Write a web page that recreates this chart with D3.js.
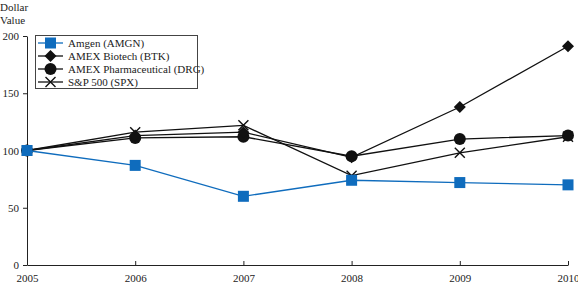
<!DOCTYPE html>
<html>
<head>
<meta charset="utf-8">
<script src="https://cdn.jsdelivr.net/npm/d3@7"></script>
<style>
  body { margin: 0; background: #fff; }
  text { font-family: "Liberation Serif", "Times New Roman", serif; font-size: 11px; fill: #222; }
</style>
</head>
<body>
<div id="graphic"></div>
<script>
// values
const years = [2005, 2006, 2007, 2008, 2009, 2010];
const yTicks = [0, 50, 100, 150, 200];
const amgn = [100, 87, 60, 74, 72, 70];
const btk = [100, 113, 116, 94, 138, 191];
const drg = [100, 111, 112, 95, 110, 113];
const spx = [100, 116, 122, 78, 98, 112];
const seriesNames = ['Amgen (AMGN)', 'AMEX Biotech (BTK)', 'AMEX Pharmaceutical (DRG)', 'S&P 500 (SPX)'];

(function () {
  var width = 578;
  var height = 284;
  var blue = '#0f6cbd';

  var svg = d3.select('#graphic')
    .append('svg')
    .attr('width', width)
    .attr('height', height)

  var x = d3.scaleLinear().domain([2005, 2010]).range([27, 568])
  var y = d3.scaleLinear().domain([0, 200]).range([265, 36])

  // axes
  svg.append('g')
    .attr('transform', 'translate(0,' + y(0) + ')')
    .call(d3.axisBottom(x).tickValues(years).tickFormat(d3.format('d')).tickSize(4).tickSizeOuter(0))
    .call(g => g.selectAll('.tick line').attr('y1', -4).attr('y2', 0))
    .call(g => g.selectAll('.tick text').attr('dy', '0.9em'))

  svg.append('g')
    .attr('transform', 'translate(' + x(2005) + ',0)')
    .call(d3.axisLeft(y).tickValues(yTicks).tickSize(4).tickSizeOuter(0))
    .call(g => g.selectAll('.tick text').attr('x', -8))

  svg.selectAll('.domain, .tick line').attr('stroke', '#222')
  svg.selectAll('.tick text').style('font-family', '"Liberation Serif", serif').style('font-size', '11px').attr('fill', '#222')

  svg.append('text').attr('x', 0).attr('y', 11).text('Dollar')
  svg.append('text').attr('x', 0).attr('y', 24).text('Value')

  var series = [
    { name: seriesNames[0], values: amgn, color: blue, marker: 'square' },
    { name: seriesNames[1], values: btk, color: '#111', marker: 'diamond' },
    { name: seriesNames[2], values: drg, color: '#111', marker: 'circle' },
    { name: seriesNames[3], values: spx, color: '#111', marker: 'cross' }
  ]

  var line = d3.line()
    .x((d, i) => x(years[i]))
    .y(d => y(d))

  function drawMarker (g, type, color) {
    if (type == 'square') {
      g.append('rect').attr('x', -5.5).attr('y', -5.5).attr('width', 11).attr('height', 11).attr('fill', color)
    } else if (type == 'diamond') {
      g.append('path').attr('d', 'M0,-6L6,0L0,6L-6,0Z').attr('fill', color)
    } else if (type == 'circle') {
      g.append('circle').attr('r', 6).attr('fill', color)
    } else {
      g.append('path').attr('d', 'M-5,-5L5,5M-5,5L5,-5').attr('stroke', color).attr('stroke-width', 1.4).attr('fill', 'none')
    }
  }

  // draw black series first so the blue one sits on top of 2005
  series.slice().reverse().forEach(s => {
    svg.append('path')
      .attr('d', line(s.values))
      .attr('fill', 'none')
      .attr('stroke', s.color)
      .attr('stroke-width', 1.3)
    s.values.forEach((v, i) => {
      var g = svg.append('g').attr('transform', 'translate(' + x(years[i]) + ',' + y(v) + ')')
      drawMarker(g, s.marker, s.color)
    })
  })

  // legend
  var legend = svg.append('g')
  legend.append('rect')
    .attr('x', 35.5).attr('y', 35.5).attr('width', 162).attr('height', 53)
    .attr('fill', '#fff').attr('stroke', '#444')

  series.forEach((s, i) => {
    var ly = 43 + i * 13
    legend.append('line').attr('x1', 38).attr('x2', 63).attr('y1', ly).attr('y2', ly)
      .attr('stroke', s.color).attr('stroke-width', 1.3)
    var g = legend.append('g').attr('transform', 'translate(50.5,' + ly + ')')
    drawMarker(g, s.marker, s.color)
    legend.append('text').attr('x', 68).attr('y', ly + 4).text(s.name)
  })
})()
</script>
</body>
</html>
